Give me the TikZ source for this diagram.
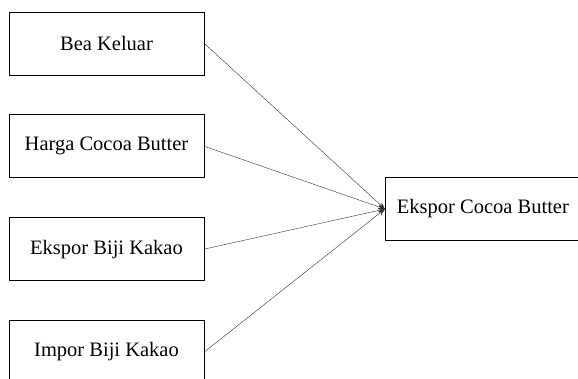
\documentclass[tikz,border=0pt]{standalone}
\usepackage{fontspec}
\setmainfont{Liberation Serif}
\usetikzlibrary{positioning,arrows.meta}

\begin{document}
\begin{tikzpicture}[x=1pt, y=1pt, >={Stealth[length=7pt,width=5pt]},
    var/.style={rectangle, draw, thick, minimum width=195pt, minimum height=63pt, inner sep=0pt, font=\fontsize{20.5}{24}\selectfont},
    link/.style={->, thin, draw=black!80},
    node distance=39pt]
            \useasboundingbox (0,0) rectangle (578,-379);
            \node[var] (bea) at (106.5,-43.5) {Bea Keluar};
            \node[var, below=of bea] (harga) {Harga Cocoa Butter};
            \node[var, below=of harga] (ekbiji) {Ekspor Biji Kakao};
            \node[var, below=of ekbiji] (imbiji) {Impor Biji Kakao};
            \node[var, anchor=west] (ekcocoa) at (385,-209) {Ekspor Cocoa Butter};
            \draw[link] (bea.east) -- (ekcocoa.west);
            \draw[link] (harga.east) -- (ekcocoa.west);
            \draw[link] (ekbiji.east) -- (ekcocoa.west);
            \draw[link] (imbiji.east) -- (ekcocoa.west);
        \end{tikzpicture}
\end{document}
